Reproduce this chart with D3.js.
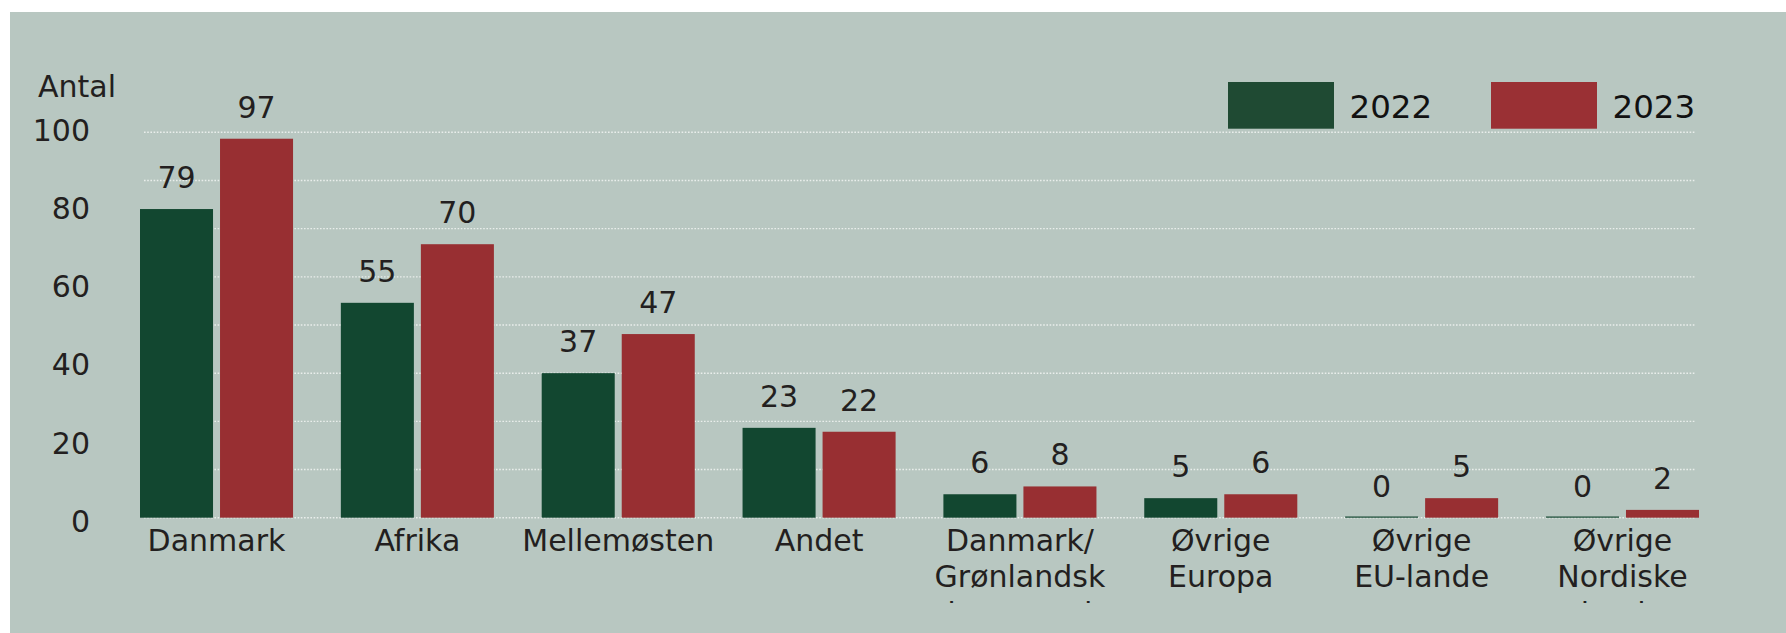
<!DOCTYPE html>
<html>
<head>
<meta charset="utf-8">
<script src="https://cdn.jsdelivr.net/npm/d3@7"></script>
<style>
  html, body { margin: 0; padding: 0; background: #ffffff; }
  svg { display: block; }
  text { font-family: "DejaVu Sans", Verdana, sans-serif; }
</style>
</head>
<body>
<svg id="chart" width="1786" height="633"></svg>
<script>
// ---- data ----
const categories = ["Danmark", "Afrika", "Mellemøsten", "Andet", "Danmark/ Grønlandsk baggrund", "Øvrige Europa", "Øvrige EU-lande", "Øvrige Nordiske lande"];
const seriesNames = ["2022", "2023"];
const values2022 = [79, 55, 37, 23, 6, 5, 0, 0];
const values2023 = [97, 70, 47, 22, 8, 6, 5, 2];
const yTicks = [0, 20, 40, 60, 80, 100];
const gridLevels = [12.33, 24.66, 36.99, 49.32, 61.65, 73.98, 86.31, 98.64];
const yTitle = "Antal";

// ---- styles / layout ----
const barColors = ["#124730", "#982f32"];
const legendColors = ["#1f4a33", "#9a3034"];
const textColor = "#231f20";

const W = 1786, H = 633;
const svg = d3.select("#chart");

svg.append("rect").attr("x", 10).attr("y", 12).attr("width", W - 10).attr("height", H - 12).attr("fill", "#b8c7c1");

const y = d3.scaleLinear().domain([0, 100]).range([517.7, 127]);
const x0 = d3.scaleBand().domain(categories).range([140, 1699]).paddingInner(0.238).paddingOuter(0);
const x1 = d3.scaleBand().domain(seriesNames).range([0, x0.bandwidth()]).paddingInner(0.0875).paddingOuter(0);

// gridlines
svg.append("g").selectAll("line").data([0].concat(gridLevels)).join("line")
  .attr("x1", 144).attr("x2", 1695)
  .attr("y1", d => y(d)).attr("y2", d => y(d))
  .attr("stroke", "#e9eeec").attr("stroke-width", 1.4).attr("stroke-dasharray", "1.6,1.6");

// y tick labels
svg.append("g").selectAll("text").data(yTicks).join("text")
  .attr("x", 90).attr("y", d => y(d) + 14)
  .attr("text-anchor", "end").attr("font-size", 30).attr("fill", textColor)
  .text(d => d);

svg.append("text").attr("x", 38).attr("y", 97).attr("font-size", 30).attr("fill", textColor).text(yTitle);

// bars
const rows = categories.map((c, i) => ({ cat: c, vals: [values2022[i], values2023[i]] }));
const groups = svg.append("g").selectAll("g").data(rows).join("g")
  .attr("transform", d => `translate(${x0(d.cat)},0)`);

groups.selectAll("rect").data(d => d.vals.map((v, j) => ({ s: seriesNames[j], v, j }))).join("rect")
  .attr("x", d => x1(d.s)).attr("width", x1.bandwidth())
  .attr("y", d => Math.min(y(d.v), y(0) - 1.2))
  .attr("height", d => Math.max(y(0) - y(d.v), 1.2))
  .attr("fill", d => barColors[d.j]);

groups.selectAll("text").data(d => d.vals.map((v, j) => ({ s: seriesNames[j], v, j }))).join("text")
  .attr("x", d => x1(d.s) + x1.bandwidth() / 2)
  .attr("y", d => y(d.v) - 21)
  .attr("text-anchor", "middle").attr("font-size", 30).attr("fill", textColor)
  .text(d => d.v);

// x axis labels (clipped)
const defs = svg.append("defs");
defs.append("clipPath").attr("id", "xclip").append("rect").attr("x", 0).attr("y", 520).attr("width", W).attr("height", 83);
const xl = svg.append("g").attr("clip-path", "url(#xclip)");
xl.selectAll("text").data(categories).join("text")
  .attr("x", d => x0(d) + x0.bandwidth() / 2)
  .attr("y", 550.7)
  .attr("text-anchor", "middle").attr("font-size", 30).attr("fill", textColor)
  .each(function (d) {
    const lines = d.split(" ");
    const t = d3.select(this);
    lines.forEach((ln, k) => {
      t.append("tspan").attr("x", x0(d) + x0.bandwidth() / 2).attr("dy", k === 0 ? 0 : 36.6).text(ln);
    });
  });

// legend
const legendX = [1228, 1491];
const lg = svg.append("g").selectAll("g").data(seriesNames).join("g")
  .attr("transform", (d, i) => `translate(${legendX[i]},82)`);
lg.append("rect").attr("width", 106).attr("height", 46.7).attr("fill", (d, i) => legendColors[i]);
lg.append("text").attr("x", 121.5).attr("y", 35.5).attr("font-size", 32.5).attr("fill", "#111").text(d => d);
</script>
</body>
</html>
